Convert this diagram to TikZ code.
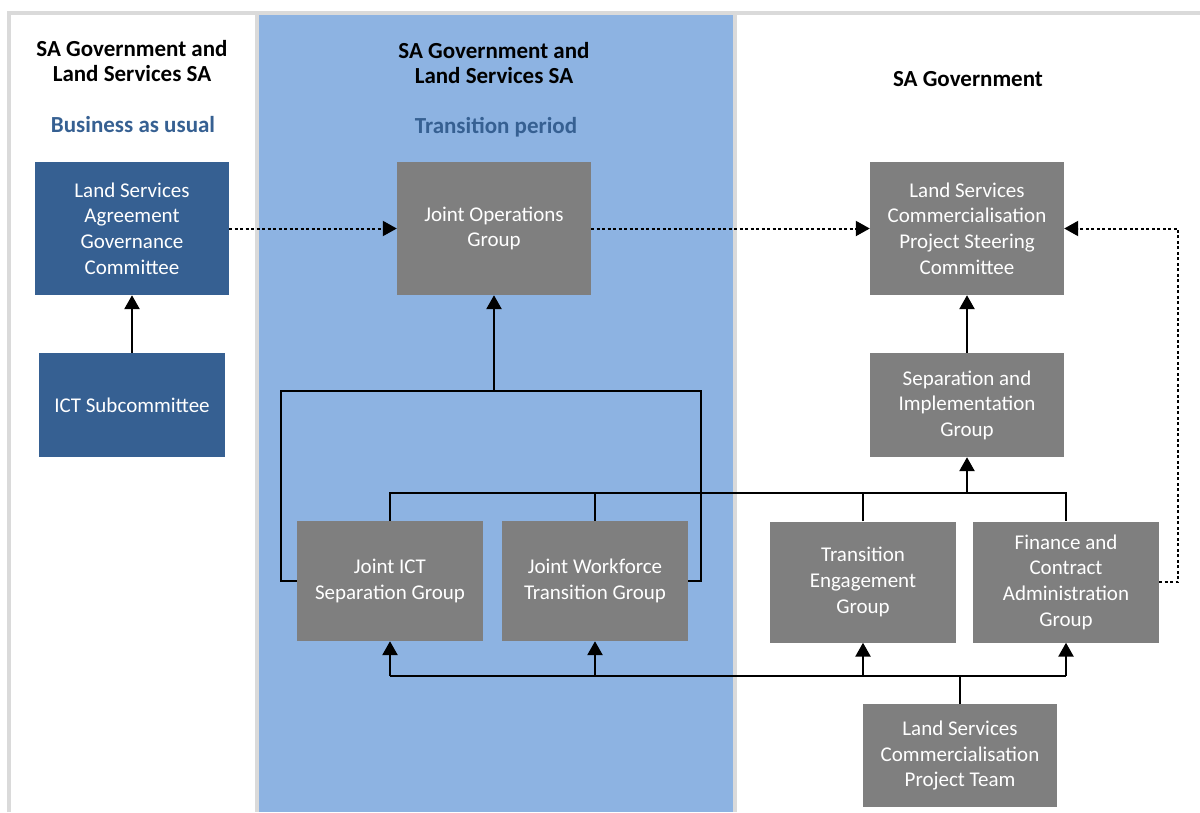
\documentclass[tikz,border=0pt]{standalone}
\usepackage{fontspec}
\setmainfont{Carlito}
\usepackage{tikz}
\usetikzlibrary{arrows.meta, positioning, calc}
\definecolor{lsblue}{RGB}{54,96,146}
\definecolor{lsgrey}{RGB}{127,127,127}
\definecolor{bandblue}{RGB}{141,179,226}
\definecolor{framegrey}{RGB}{218,218,218}
\tikzset{
  bluebox/.style={rectangle, fill=lsblue, text=white, align=center,
    inner sep=0pt, font=\fontsize{21}{25.6}\selectfont},
  greybox/.style={rectangle, fill=lsgrey, text=white, align=center,
    inner sep=0pt, font=\fontsize{21}{25.6}\selectfont},
  header/.style={align=center, font=\fontsize{23}{25.6}\selectfont\bfseries},
  subheader/.style={align=center, text=lsblue, font=\fontsize{23}{25.6}\selectfont\bfseries},
  arrow/.style={-{Triangle[length=14pt,width=15pt]}, line width=2.6pt, color=black},
  dotarrow/.style={-{Triangle[length=14pt,width=15pt]}, line width=2pt,
    dash pattern=on 3pt off 2.5pt, color=black},
  line/.style={line width=2pt, color=black}
}

\begin{document}
\begin{tikzpicture}[x=1pt, y=-1pt]
  \useasboundingbox (0,0) rectangle (1200,812);
  % Transition band and table frame
  \fill[bandblue] (258.5,14.5) rectangle (732.5,812);
  \draw[framegrey, line width=4pt] (9,812) -- (9,12.5) -- (1200,12.5);
  \draw[framegrey, line width=4pt] (256.5,12.5) -- (256.5,812);
  \draw[framegrey, line width=4pt] (734.5,12.5) -- (734.5,812);
  % Column headings
  \node[header] (hleft) at (132,61) {SA Government and\\Land Services SA};
  \node[subheader] (bau) at (133,125) {Business as usual};
  \node[header] (hmid) at (494,63) {SA Government and\\Land Services SA};
  \node[subheader] (trans) at (496,127) {Transition period};
  \node[header] (hright) at (968,79) {SA Government};
  % Business as usual
  \node[bluebox, minimum width=194pt, minimum height=133pt] (lsagc) at (132,228.5)
    {Land Services\\Agreement\\Governance\\Committee};
  \node[bluebox, minimum width=186pt, minimum height=104pt] (ict) at (132,405)
    {ICT Subcommittee};
  % Transition period
  \node[greybox, minimum width=194pt, minimum height=133pt] (jog) at (494,228.5)
    {Joint Operations\\Group};
  \node[greybox, minimum width=186pt, minimum height=120pt] (jict) at (390,581)
    {Joint ICT\\Separation Group};
  \node[greybox, minimum width=186pt, minimum height=120pt] (jwork) at (595,581)
    {Joint Workforce\\Transition Group};
  % SA Government
  \node[greybox, minimum width=194pt, minimum height=133pt] (steer) at (967,228.5)
    {Land Services\\Commercialisation\\Project Steering\\Committee};
  \node[greybox, minimum width=194pt, minimum height=104pt] (sig) at (967,405)
    {Separation and\\Implementation\\Group};
  \node[greybox, minimum width=186pt, minimum height=121pt] (teg) at (863,582)
    {Transition\\Engagement\\Group};
  \node[greybox, minimum width=186pt, minimum height=121pt] (fcag) at (1066,582)
    {Finance and\\Contract\\Administration\\Group};
  \node[greybox, minimum width=194pt, minimum height=103pt] (team) at (960,755.5)
    {Land Services\\Commercialisation\\Project Team};
  % Bus junctions
  \coordinate (jbus) at (494,391);
  \coordinate (sbus) at (967,493);
  \coordinate (tbus) at (960,676);
  % Reporting lines
  \draw[arrow] (ict) -- (lsagc);
  \draw[dotarrow] (lsagc) -- (jog);
  \draw[dotarrow] (jog) -- (steer);
  \draw[dotarrow] (fcag.east) -- ++(19,0) |- (steer.east);
  \draw[line] (jict.west) -- ++(-16,0) |- (jbus) -| ($(jwork.east)+(13,0)$) -- (jwork.east);
  \draw[arrow] (jbus) -- (jog);
  \draw[line] (jict.north) |- (fcag.north |- sbus) -- (fcag.north);
  \draw[line] (jwork.north) -- (jwork.north |- sbus);
  \draw[line] (teg.north) -- (teg.north |- sbus);
  \draw[arrow] (sbus) -- (sig);
  \draw[arrow] (sig) -- (steer);
  % Project team feeds the working groups
  \draw[line, line width=2.6pt] (team) -- (tbus);
  \draw[line] (jict.south |- tbus) -- (fcag.south |- tbus);
  \foreach \grp in {jict, jwork, teg, fcag}
    \draw[arrow] (\grp.south |- tbus) -- (\grp.south);
\end{tikzpicture}
\end{document}
